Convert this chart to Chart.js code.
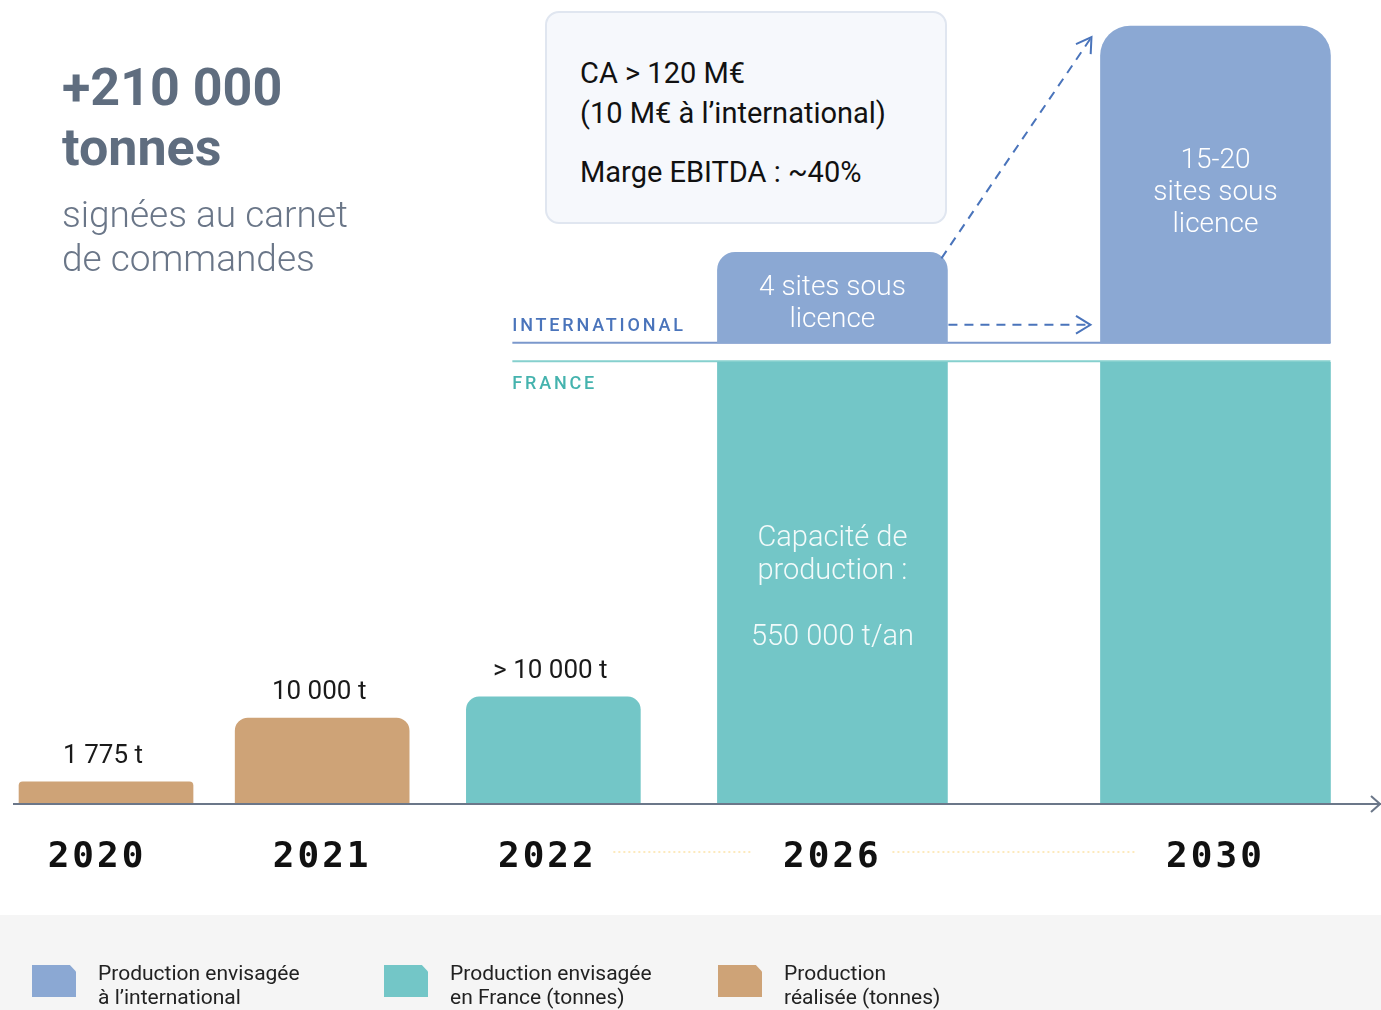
<!DOCTYPE html>
<html lang="fr">
<head>
  <meta charset="UTF-8" />
  <meta name="viewport" content="width=device-width, initial-scale=1.0" />
  <title>Production et capacité 2020-2030</title>
  <script src="https://cdn.jsdelivr.net/npm/chart.js"></script>
  <style>
    body { margin: 0; background: #fff; font-family: Roboto, "Open Sans", sans-serif; }
    #page { position: relative; width: 1381px; height: 1010px; overflow: hidden; }
    .band { position: absolute; left: 0; top: 915px; width: 1381px; height: 95px; background: #f5f5f5; }
    .chart-box { position: absolute; left: 0; top: 0; width: 1381px; height: 1010px; }
    .titre { position: absolute; left: 62px; top: 58px; color: #5f6d7f; }
    .titre .gros { font-weight: 700; font-size: 52px; line-height: 60px; }
    .titre .sous { font-weight: 300; font-size: 37px; line-height: 44px; margin-top: 15px; color: #6a7688; }
    .encart {
      position: absolute; left: 545px; top: 11px; width: 398px; height: 209px;
      border: 2px solid #e0e6f0; border-radius: 14px; background: #f6f8fc;
      color: #111; font-size: 29px; line-height: 40px;
    }
    .encart p { margin: 0; position: absolute; left: 33px; }
    .legende { position: absolute; top: 961px; font-size: 21px; line-height: 24px; color: #222; }
    .swatch {
      position: absolute; top: 965px; width: 44px; height: 32px;
      clip-path: polygon(0 0, 86% 0, 100% 20%, 100% 100%, 0 100%);
    }
  </style>
</head>
<body>
<div id="page">
  <div class="band"></div>

  <div class="chart-box"><canvas id="prodChart"></canvas></div>

  <div class="titre">
    <div class="gros">+210 000<br />tonnes</div>
    <div class="sous">signées au carnet<br />de commandes</div>
  </div>

  <div class="encart">
    <p style="top: 40px;">CA &gt; 120 M€<br />(10 M€ à l’international)</p>
    <p style="top: 139px;">Marge EBITDA : ~40%</p>
  </div>

  <div class="swatch" style="left: 32px; background: #8ba8d3;"></div>
  <div class="legende" style="left: 98px;">Production envisagée<br />à l’international</div>
  <div class="swatch" style="left: 384px; background: #73c6c7;"></div>
  <div class="legende" style="left: 450px;">Production envisagée<br />en France (tonnes)</div>
  <div class="swatch" style="left: 718px; background: #cea377;"></div>
  <div class="legende" style="left: 784px;">Production<br />réalisée (tonnes)</div>
</div>

<script>
  // années et libellés
  const annees = ['2020', '2021', '2022', '2026', '2030'];
  const etiquettes = ['1 775 t', '10 000 t', '> 10 000 t', '', ''];
  // hauteurs des barres (échelle 0-100, schéma non proportionnel)
  const realise = [2.7, 10.9, null, null, null];
  const franceProjet = [null, null, 13.6, 56.5, 56.5];
  const internationalBas = [null, null, null, 59.0, 59.0];
  const internationalHaut = [null, null, null, 70.6, 99.6];
  const texteInterieur = [
    null, null, null,
    { inter: ['4 sites sous', 'licence'], france: ['Capacité de', 'production :', '', '550 000 t/an'] },
    { inter: ['15-20', 'sites sous', 'licence'], france: [] }
  ];

  // mise en page : position des colonnes sur l'axe (0-100) et arrondis
  const posX = [6.8, 22.6, 39.5, 59.9, 87.9];
  const arrondi = [4, 13, 13, 18, 30];

  const points = (vals, bas) => vals
    .map((v, i) => v === null ? null : { x: posX[i], y: bas ? [bas[i], v] : v, i })
    .filter(p => p !== null);

  const haut = r => ({ topLeft: r, topRight: r, bottomLeft: 0, bottomRight: 0 });

  const datasets = [
    {
      label: 'Production réalisée (tonnes)',
      data: points(realise),
      backgroundColor: '#cea377',
      barThickness: 174,
      borderRadius: c => haut(arrondi[c.raw.i])
    },
    {
      label: 'Production envisagée en France (tonnes)',
      data: points(franceProjet).filter(p => p.i < 3),
      backgroundColor: '#73c6c7',
      barThickness: 174,
      borderRadius: c => haut(arrondi[c.raw.i])
    },
    {
      label: 'Capacité en France',
      data: points(franceProjet).filter(p => p.i >= 3),
      backgroundColor: '#73c6c7',
      barThickness: 230,
      borderRadius: 0
    },
    {
      label: 'Production envisagée à l’international',
      data: points(internationalHaut, internationalBas),
      backgroundColor: '#8ba8d3',
      barThickness: 230,
      borderSkipped: false,
      borderRadius: c => haut(arrondi[c.raw.i])
    }
  ];

  function texte(ctx, s, x, y, font, color, align) {
    ctx.font = font;
    ctx.fillStyle = color;
    ctx.textAlign = align || 'center';
    ctx.textBaseline = 'alphabetic';
    ctx.fillText(s, x, y);
  }

  function tirets(ctx, x1, y1, x2, y2) {
    ctx.save();
    ctx.strokeStyle = '#4a74bb';
    ctx.lineWidth = 2;
    ctx.setLineDash([9, 7]);
    ctx.beginPath();
    ctx.moveTo(x1, y1);
    ctx.lineTo(x2, y2);
    ctx.stroke();
    // pointe
    const a = Math.atan2(y2 - y1, x2 - x1);
    ctx.setLineDash([]);
    ctx.beginPath();
    ctx.moveTo(x2 - 17 * Math.cos(a - 0.55), y2 - 17 * Math.sin(a - 0.55));
    ctx.lineTo(x2, y2);
    ctx.lineTo(x2 - 17 * Math.cos(a + 0.55), y2 - 17 * Math.sin(a + 0.55));
    ctx.stroke();
    ctx.restore();
  }

  const decor = {
    id: 'decor',
    beforeDatasetsDraw(chart) {
      const { ctx, scales: { x, y } } = chart;
      const yInt = y.getPixelForValue(internationalBas[3]);
      const yFr = y.getPixelForValue(franceProjet[3]);
      const debut = x.getPixelForValue(posX[2]) - 41;
      const fin = x.getPixelForValue(posX[4]) + 115;
      ctx.save();
      ctx.lineWidth = 2;
      ctx.strokeStyle = '#7b98cc';
      ctx.beginPath(); ctx.moveTo(debut, yInt); ctx.lineTo(fin, yInt); ctx.stroke();
      ctx.strokeStyle = '#86d0ce';
      ctx.beginPath(); ctx.moveTo(debut, yFr - 1); ctx.lineTo(fin, yFr - 1); ctx.stroke();
      ctx.letterSpacing = '2.8px';
      texte(ctx, 'INTERNATIONAL', debut, yInt - 12, '500 18px Roboto', '#4a74bb', 'left');
      texte(ctx, 'FRANCE', debut, yFr + 27, '500 18px Roboto', '#45b3ae', 'left');
      ctx.restore();
    },
    afterDatasetsDraw(chart) {
      const { ctx, chartArea, scales: { x, y } } = chart;
      const y0 = y.getPixelForValue(0);
      ctx.save();

      // axe horizontal avec flèche
      ctx.strokeStyle = '#6b7789';
      ctx.lineWidth = 2;
      ctx.beginPath(); ctx.moveTo(chartArea.left, y0 + 1); ctx.lineTo(chartArea.right, y0 + 1); ctx.stroke();
      ctx.beginPath();
      ctx.moveTo(chartArea.right - 10, y0 - 7);
      ctx.lineTo(chartArea.right - 1, y0 + 1);
      ctx.lineTo(chartArea.right - 10, y0 + 9);
      ctx.stroke();

      // valeurs au-dessus des barres
      [realise, franceProjet].forEach(serie => {
        serie.forEach((v, i) => {
          if (v === null || !etiquettes[i]) return;
          texte(ctx, etiquettes[i], x.getPixelForValue(posX[i]) - 3, y.getPixelForValue(v) - 19,
            '400 26px Roboto', '#1a1a1a');
        });
      });

      // textes dans les barres
      texteInterieur.forEach((t, i) => {
        if (!t) return;
        const cx = x.getPixelForValue(posX[i]);
        const yHaut = y.getPixelForValue(internationalHaut[i]);
        const decal = t.inter.length === 2 ? 43 : 142;
        t.inter.forEach((l, k) => {
          texte(ctx, l, cx, yHaut + decal + k * 32, '300 28px Roboto', '#ffffff');
        });
        const yFr = y.getPixelForValue(franceProjet[i]);
        t.france.forEach((l, k) => {
          if (l) texte(ctx, l, cx, yFr + 184 + k * 33, '300 29px Roboto', '#f2fafa');
        });
      });

      // flèches en tirets
      const b26 = chart.getDatasetMeta(3).data[0];
      const b30 = chart.getDatasetMeta(3).data[1];
      const yFleche = y.getPixelForValue(internationalBas[3]) - 18;
      tirets(ctx, b26.x + b26.width / 2 + 1, yFleche, b30.x - b30.width / 2 - 10, yFleche);
      tirets(ctx, b26.x + b26.width / 2 - 6, b26.y + 6, b30.x - b30.width / 2 - 9, b30.y + 11);

      // pointillés jaunes entre années
      ctx.strokeStyle = '#fde3a7';
      ctx.lineWidth = 1.5;
      ctx.setLineDash([2, 3]);
      [[2, 3], [3, 4]].forEach(([a, b]) => {
        const xa = x.getPixelForValue(posX[a]) + 60;
        const xb = x.getPixelForValue(posX[b]) - 80;
        ctx.beginPath(); ctx.moveTo(xa, y0 + 49); ctx.lineTo(xb, y0 + 49); ctx.stroke();
      });
      ctx.setLineDash([]);

      // années
      ctx.letterSpacing = '3px';
      annees.forEach((a, i) => {
        const dx = i === 0 ? -9 : (i === 2 ? -6 : 0);
        texte(ctx, a, x.getPixelForValue(posX[i]) + dx, y0 + 64, 'bold 36px "DejaVu Sans Mono"', '#111');
      });
      ctx.restore();
    }
  };

  new Chart(document.getElementById('prodChart'), {
    type: 'bar',
    data: { datasets },
    options: {
      responsive: true,
      maintainAspectRatio: false,
      animation: false,
      layout: { padding: { left: 13, right: 0, top: 23, bottom: 207 } },
      datasets: { bar: { grouped: false } },
      scales: {
        x: { type: 'linear', min: 0, max: 100, offset: false, display: false },
        y: { min: 0, max: 100, display: false }
      },
      plugins: {
        legend: { display: false },
        tooltip: { enabled: false }
      }
    },
    plugins: [decor]
  });
</script>
</body>
</html>
